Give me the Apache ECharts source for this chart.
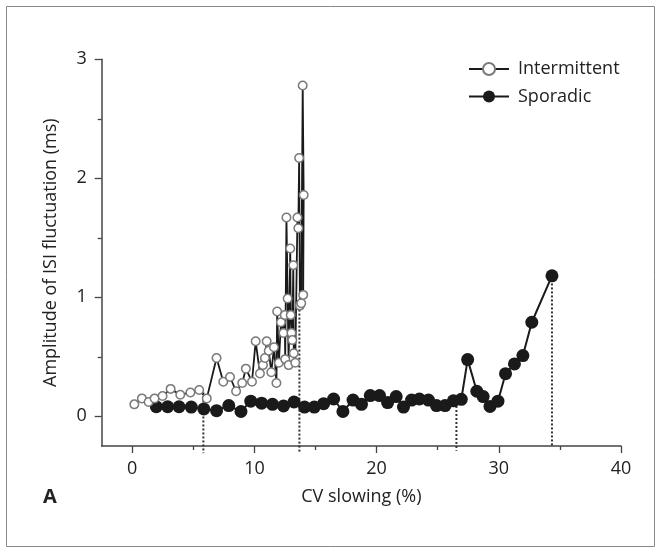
<!DOCTYPE html>
<html><head><meta charset="utf-8">
<script src="https://cdn.jsdelivr.net/npm/echarts@6/dist/echarts.min.js"></script>
<style>html,body{margin:0;padding:0;background:#fff}#c{width:661px;height:553px}</style>
</head><body><div id="c"></div>
<script>
const intermittentX = [0.17,0.79,1.34,1.83,2.48,3.14,3.93,4.76,5.48,6.1,6.9,7.45,8.0,8.5,9.0,9.3,9.8,10.1,10.45,10.7,10.86,11.0,11.17,11.38,11.6,11.8,11.86,12.0,12.17,12.38,12.48,12.52,12.62,12.72,12.8,12.93,12.97,13.03,13.1,13.18,13.22,13.34,13.52,13.59,13.66,13.72,13.83,13.95,14.03,13.99];
const intermittentY = [0.10,0.15,0.12,0.15,0.17,0.23,0.18,0.20,0.22,0.15,0.49,0.29,0.33,0.21,0.28,0.40,0.29,0.63,0.36,0.43,0.49,0.63,0.55,0.37,0.58,0.28,0.88,0.45,0.79,0.70,0.85,0.48,1.67,0.99,0.43,1.41,0.85,0.70,0.64,1.27,0.53,0.45,1.67,1.58,2.17,0.93,0.95,2.78,1.86,1.02];
const sporadicX = [1.97,2.9,3.83,4.83,5.86,6.9,7.9,8.9,9.7,10.59,11.48,12.38,13.24,14.1,14.9,15.66,16.48,17.24,18.07,18.76,19.48,20.24,20.9,21.6,22.2,22.86,23.5,24.24,24.9,25.6,26.28,26.93,27.45,28.2,28.72,29.28,29.93,30.55,31.28,31.97,32.7,34.35];
const sporadicY = [0.08,0.08,0.08,0.077,0.062,0.047,0.09,0.04,0.127,0.11,0.10,0.086,0.12,0.077,0.077,0.106,0.145,0.04,0.136,0.10,0.174,0.174,0.115,0.165,0.077,0.136,0.145,0.136,0.09,0.09,0.13,0.142,0.476,0.21,0.165,0.083,0.127,0.358,0.44,0.51,0.79,1.18];
const dropLineX = [5.82,13.68,26.53,34.35];
const dropLineTop = [0.2,0.93,0.12,1.15];
const dropLineBottom = [-0.31,-0.31,-0.29,-0.25];
const xMajorTicks = [0,10,20,30,40];
const xMinorTicks = [5,15,25,35];
const yMajorTicks = [0,1,2,3];
const yMinorTicks = [0.5,1.5,2.5];

const FONT = '"Open Sans", "Noto Sans", sans-serif';
const axisCol = '#444';
const textCol = '#222';
const chart = echarts.init(document.getElementById('c'), null, {renderer:'canvas'});

const zip = (xs, ys) => xs.map((x, i) => [x, ys[i]]);

const dropSeries = dropLineX.map((x, i) => ({
  type: 'line', name: 'drop' + i, clip: false, silent: true, symbol: 'none', z: 1,
  data: [[x, dropLineTop[i]], [x, dropLineBottom[i]]],
  lineStyle: {color: '#333', width: 2, type: [2, 2]}
}));

chart.setOption({
  animation: false,
  backgroundColor: '#fff',
  grid: {left: 101.7, right: 40, top: 59.3, bottom: 107, containLabel: false},
  xAxis: [{
    type: 'value', min: -2.5, max: 40,
    name: 'CV slowing (%)', nameLocation: 'middle', nameGap: 42,
    nameTextStyle: {fontFamily: FONT, fontSize: 18, color: textCol},
    axisLine: {onZero: false, lineStyle: {color: axisCol, width: 1.5}},
    axisTick: {customValues: xMajorTicks, length: 7, lineStyle: {color: axisCol, width: 1.3}},
    axisLabel: {customValues: xMajorTicks, margin: 14, fontFamily: FONT, fontSize: 18, color: textCol},
    splitLine: {show: false}
  }, {
    type: 'value', min: -2.5, max: 40, position: 'bottom',
    axisLine: {show: false, onZero: false},
    axisTick: {customValues: xMinorTicks, length: 4, lineStyle: {color: axisCol, width: 1.3}},
    axisLabel: {show: false},
    splitLine: {show: false}
  }],
  yAxis: [{
    type: 'value', min: -0.25, max: 3,
    name: 'Amplitude of ISI fluctuation (ms)', nameLocation: 'middle', nameGap: 42,
    nameTextStyle: {fontFamily: FONT, fontSize: 18, color: textCol},
    axisLine: {show: true, onZero: false, lineStyle: {color: axisCol, width: 1.5}},
    axisTick: {show: true, customValues: yMajorTicks, length: 7, lineStyle: {color: axisCol, width: 1.3}},
    axisLabel: {customValues: yMajorTicks, margin: 15, fontFamily: FONT, fontSize: 18, color: textCol},
    splitLine: {show: false}
  }, {
    type: 'value', min: -0.25, max: 3, position: 'left',
    axisLine: {show: false, onZero: false},
    axisTick: {show: true, customValues: yMinorTicks, length: 4, lineStyle: {color: axisCol, width: 1.3}},
    axisLabel: {show: false},
    splitLine: {show: false}
  }],
  legend: {
    orient: 'vertical', left: 468, top: 60, padding: 0, itemWidth: 40, itemHeight: 15, itemGap: 9.4,
    data: ['Intermittent', 'Sporadic'],
    textStyle: {fontFamily: FONT, fontSize: 18, color: textCol, padding: [0, 0, 0, 4]}
  },
  graphic: [
    {type: 'rect', shape: {x: 6.5, y: 6.5, width: 648, height: 540}, style: {fill: 'none', stroke: '#888', lineWidth: 1}, silent: true},
    {type: 'text', left: 43, top: 487, style: {text: 'A', fontFamily: FONT, fontSize: 20, fontWeight: 'bold', fill: textCol}}
  ],
  series: [
    ...dropSeries,
    {
      type: 'line', name: 'Sporadic', z: 3,
      data: zip(sporadicX, sporadicY),
      symbol: 'circle', symbolSize: 13,
      lineStyle: {color: '#1a1a1a', width: 2},
      itemStyle: {color: '#1a1a1a', borderColor: '#1a1a1a', borderWidth: 0}
    },
    {
      type: 'line', name: 'Intermittent', z: 4,
      data: zip(intermittentX, intermittentY),
      symbol: 'circle', symbolSize: 8.5,
      lineStyle: {color: '#1a1a1a', width: 1.8},
      itemStyle: {color: '#fff', borderColor: '#7a7a7a', borderWidth: 1.5}
    }
  ]
});
</script></body></html>
